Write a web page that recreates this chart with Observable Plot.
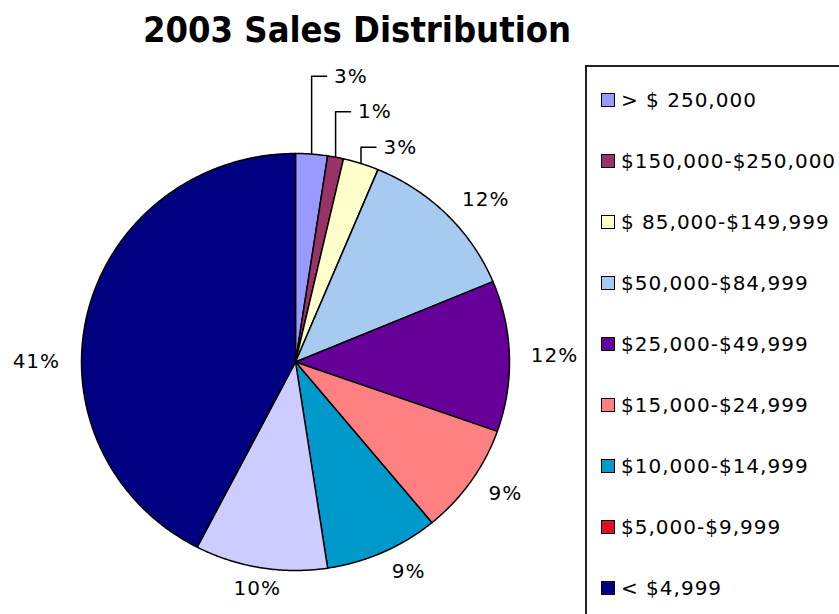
<!DOCTYPE html>
<html>
<head>
<meta charset="utf-8">
<script src="https://cdn.jsdelivr.net/npm/d3@7"></script>
<script src="https://cdn.jsdelivr.net/npm/@observablehq/plot@0.6"></script>
<style>
  html, body { margin: 0; padding: 0; background: #fff; overflow: hidden; }
  #wrap { position: relative; width: 839px; height: 614px; overflow: hidden; }
  #title { position: absolute; left: 0; top: 10px; width: 714px; text-align: center;
    font-family: "Liberation Sans Narrow", "DejaVu Sans Condensed", sans-serif; font-weight: bold;
    font-size: 36px; line-height: 40px; color: #000; }
  #legend { position: absolute; left: 585px; top: 65px; width: 300px; height: 600px;
    border: 2px solid #222; box-sizing: border-box; padding-top: 2px; background: #fff; }
  .row { height: 61px; display: flex; align-items: center; padding-left: 14px;
    font-family: "DejaVu Sans", sans-serif; font-size: 20px; letter-spacing: 1px; color: #000; white-space: nowrap; }
  .sw { width: 12px; height: 12px; border: 1px solid #000; margin-right: 6px; flex: none; }
  svg { position: absolute; left: 0; top: 0; }
</style>
</head>
<body>
<div id="wrap">
  <div id="chart"></div>
  <div id="title">2003 Sales Distribution</div>
  <div id="legend"></div>
</div>
<script>
// ---- data ----
const categories = ["> $ 250,000", "$150,000-$250,000", "$ 85,000-$149,999", "$50,000-$84,999",
  "$25,000-$49,999", "$15,000-$24,999", "$10,000-$14,999", "$5,000-$9,999", "< $4,999"];
const shares = [2.4, 1.2, 2.7, 12.4, 11.7, 8.6, 8.6, 10.0, 42.4];
const labels = ["3%", "1%", "3%", "12%", "12%", "9%", "9%", "10%", "41%"];
const sliceColors = ["#9999ff", "#993366", "#ffffcc", "#a6caf0", "#660099", "#ff8080", "#0099cc", "#ccccff", "#000080"];
const legendColors = ["#9999ff", "#993366", "#ffffcc", "#a6caf0", "#660099", "#ff8080", "#0099cc", "#dd1122", "#000080"];

const rows = categories.map((c, i) => ({category: c, share: shares[i], label: labels[i], color: sliceColors[i], i}));
const arcs = d3.pie().sort(null).value(d => d.share)(rows);

// slice polygons in unit (data) space: angle 0 at top, clockwise
const poly = [];
arcs.forEach(a => {
  poly.push({key: a.data.i, color: a.data.color, X: 0, Y: 0});
  const n = Math.max(2, Math.ceil((a.endAngle - a.startAngle) / (Math.PI / 360)));
  for (let k = 0; k <= n; k++) {
    const t = a.startAngle + (a.endAngle - a.startAngle) * k / n;
    poly.push({key: a.data.i, color: a.data.color, X: Math.sin(t), Y: Math.cos(t)});
  }
});

// labels
const smallLevels = [1.37, 1.20, 1.03];
const leaders = [];
const labelPts = [];
arcs.forEach((a, j) => {
  let m = (a.startAngle + a.endAngle) / 2;
  if (a.startAngle < 1.5 * Math.PI && a.endAngle > 1.5 * Math.PI && a.data.share > 25) m = 1.5 * Math.PI;
  const sx = Math.sin(m), sy = Math.cos(m);
  if (a.data.share < 5) {
    const lv = smallLevels[j];
    leaders.push({key: j, X: sx, Y: sy});
    leaders.push({key: j, X: sx, Y: lv});
    leaders.push({key: j, X: sx + 0.07, Y: lv});
    labelPts.push({X: sx + 0.105, Y: lv, label: a.data.label, anchor: "start"});
  } else {
    const r = 1.1;
    const anchor = sx > 0.35 ? "start" : sx < -0.35 ? "end" : "middle";
    labelPts.push({X: sx * r, Y: sy * r, label: a.data.label, anchor});
  }
});

const font = "DejaVu Sans, sans-serif";
const textMark = anchor => Plot.text(labelPts.filter(d => d.anchor === anchor), {
  x: "X", y: "Y", text: "label", textAnchor: anchor, fontSize: 20, fontFamily: font, fill: "#000"
});

const chart = Plot.plot({
  width: 839, height: 614, margin: 0,
  x: {domain: [-1, 1], range: [81, 509], axis: null},
  y: {domain: [-1, 1], range: [570, 153], axis: null},
  color: {type: "identity"},
  style: {background: "transparent", letterSpacing: "1px"},
  marks: [
    Plot.line(poly, {x: "X", y: "Y", z: "key", fill: "color", stroke: "#000", strokeWidth: 1.5, curve: "linear-closed", strokeLinejoin: "round"}),
    Plot.line(leaders, {x: "X", y: "Y", z: "key", stroke: "#000", strokeWidth: 1.5}),
    textMark("start"), textMark("middle"), textMark("end")
  ]
});
document.getElementById("chart").appendChild(chart);

const legend = document.getElementById("legend");
categories.forEach((c, i) => {
  const row = document.createElement("div");
  row.className = "row";
  const sw = document.createElement("span");
  sw.className = "sw";
  sw.style.background = legendColors[i];
  const tx = document.createElement("span");
  tx.textContent = c;
  row.appendChild(sw); row.appendChild(tx);
  legend.appendChild(row);
});
</script>
</body>
</html>
